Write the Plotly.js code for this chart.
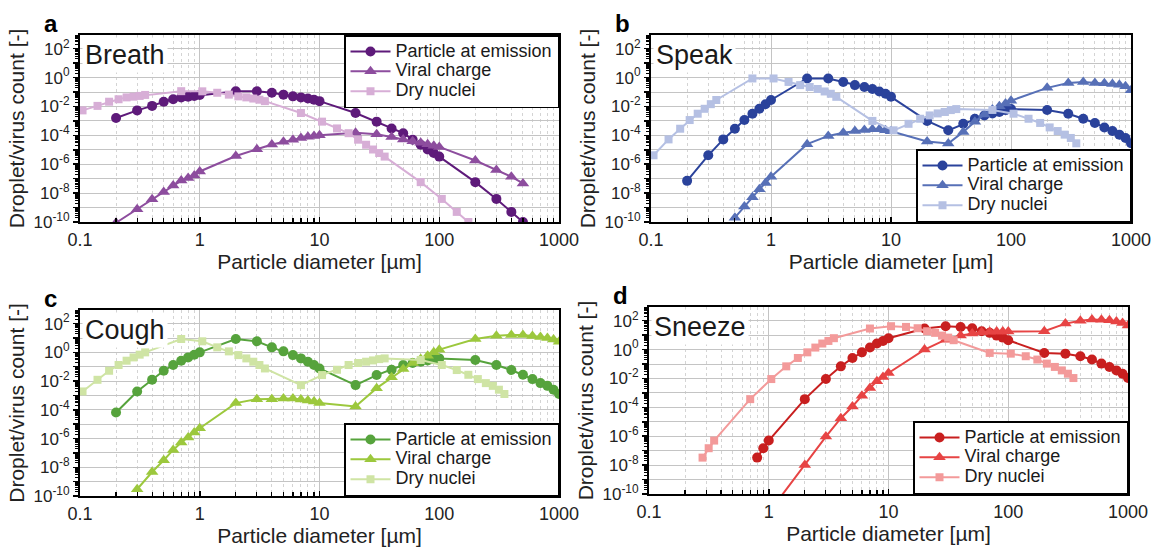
<!DOCTYPE html>
<html><head><meta charset="utf-8">
<script src="https://cdn.plot.ly/plotly-3.0.1.min.js"></script>
<style>html,body{margin:0;padding:0;background:#fff}</style>
</head><body><div id="chart" style="width:1159px;height:553px"></div>
<script>
// ---- Data (values stored as log10 of the count) ----
const seriesNames = ['Particle at emission', 'Viral charge', 'Dry nuclei'];
const panelNames = ['Breath', 'Speak', 'Cough', 'Sneeze'];
const panelLetters = ['a', 'b', 'c', 'd'];

// Breath
const breathX = [0.2,0.3,0.4,0.5,0.6,0.7,0.8,0.9,1,2,3,4,5,6,7,8,9,10,20,30,40,50,60,70,80,90,100,200,300,400,500];
const breathParticleLog = [-2.8,-2.27,-1.96,-1.67,-1.5,-1.37,-1.32,-1.27,-1.2,-0.94,-0.95,-1.05,-1.18,-1.3,-1.37,-1.45,-1.53,-1.63,-2.45,-3.05,-3.52,-3.85,-4.3,-4.65,-4.98,-5.22,-5.47,-7.24,-8.4,-9.3,-10.0];
const breathViralLog = [-10.05,-9.12,-8.42,-7.93,-7.48,-7.13,-6.95,-6.78,-6.5,-5.43,-4.96,-4.63,-4.45,-4.3,-4.18,-4.1,-4.04,-4.0,-3.82,-3.92,-4.12,-4.28,-4.4,-4.52,-4.62,-4.72,-4.8,-5.74,-6.4,-6.86,-7.33];
const breathDryX = [0.105,0.14,0.175,0.21,0.245,0.28,0.315,0.35,0.7,1.05,1.4,1.75,2.1,2.45,2.8,3.15,3.5,7,10.5,14,17.5,21,24.5,28,31.5,35,70,105,140,175];
const breathDryLog = [-2.27,-1.96,-1.67,-1.5,-1.37,-1.32,-1.27,-1.2,-0.94,-0.95,-1.05,-1.18,-1.3,-1.37,-1.45,-1.53,-1.63,-2.45,-3.05,-3.52,-3.85,-4.3,-4.65,-4.98,-5.22,-5.47,-7.24,-8.4,-9.3,-10.0];

// Speak
const speakX = [0.2,0.3,0.4,0.5,0.6,0.7,0.8,0.9,1,2,3,4,5,6,7,8,9,10,20,30,40,50,60,70,80,90,100,200,300,400,500,600,700,800,900,1000];
const speakParticleLog = [-7.15,-5.38,-4.28,-3.54,-2.94,-2.5,-2.16,-1.84,-1.55,-0.06,-0.06,-0.3,-0.52,-0.65,-0.79,-0.96,-1.12,-1.33,-3.0,-3.65,-3.2,-2.85,-2.62,-2.48,-2.38,-2.25,-2.18,-2.24,-2.5,-2.85,-3.14,-3.45,-3.7,-3.95,-4.18,-4.55];
const speakViralX = [0.5,0.6,0.7,0.8,0.9,1,2,3,4,5,6,7,8,9,10,20,30,40,50,60,70,80,90,100,200,300,400,500,600,700,800,900,1000];
const speakViralLog = [-9.7,-8.93,-8.28,-7.74,-7.3,-6.87,-4.61,-4.04,-3.82,-3.7,-3.63,-3.58,-3.58,-3.64,-3.71,-4.42,-4.56,-3.76,-3.05,-2.56,-2.21,-1.98,-1.79,-1.6,-0.71,-0.37,-0.3,-0.37,-0.4,-0.44,-0.5,-0.6,-0.88];
const speakDryX = [0.105,0.14,0.175,0.21,0.245,0.28,0.315,0.35,0.7,1.05,1.4,1.75,2.1,2.45,2.8,3.15,3.5,7,10.5,14,17.5,21,24.5,28,31.5,35,70,105,140,175,210,245,280,315,350];
const speakDryLog = [-5.38,-4.28,-3.54,-2.94,-2.5,-2.16,-1.84,-1.55,-0.06,-0.06,-0.3,-0.52,-0.65,-0.79,-0.96,-1.12,-1.33,-3.0,-3.65,-3.2,-2.85,-2.62,-2.48,-2.38,-2.25,-2.18,-2.24,-2.5,-2.85,-3.14,-3.45,-3.7,-3.95,-4.18,-4.55];

// Cough
const coughX = [0.2,0.3,0.4,0.5,0.6,0.7,0.8,0.9,1,2,3,4,5,6,7,8,9,10,20,30,40,50,60,70,80,90,100,200,300,400,500,600,700,800,900,1000];
const coughParticleLog = [-4.19,-2.72,-1.91,-1.28,-0.88,-0.58,-0.35,-0.16,0,0.93,0.77,0.35,0.07,-0.19,-0.42,-0.65,-0.88,-1.12,-2.28,-1.58,-1.21,-0.88,-0.74,-0.65,-0.56,-0.47,-0.42,-0.53,-0.88,-1.23,-1.56,-1.86,-2.14,-2.33,-2.6,-2.9];
const coughViralX = [0.3,0.4,0.5,0.6,0.7,0.8,0.9,1,2,3,4,5,6,7,8,9,10,20,30,40,50,60,70,80,90,100,200,300,400,500,600,700,800,900,1000];
const coughViralLog = [-9.53,-8.33,-7.51,-6.79,-6.28,-5.93,-5.58,-5.28,-3.53,-3.26,-3.26,-3.21,-3.21,-3.28,-3.35,-3.42,-3.53,-3.77,-2.49,-1.74,-1.16,-0.74,-0.47,-0.23,0,0.19,0.93,1.16,1.21,1.21,1.14,1.07,1.0,0.9,0.74];
const coughDryX = [0.105,0.14,0.175,0.21,0.245,0.28,0.315,0.35,0.7,1.05,1.4,1.75,2.1,2.45,2.8,3.15,3.5,7,10.5,14,17.5,21,24.5,28,31.5,35,70,105,140,175,210,245,280,315,350];
const coughDryLog = [-2.72,-1.91,-1.28,-0.88,-0.58,-0.35,-0.16,0,0.93,0.77,0.35,0.07,-0.19,-0.42,-0.65,-0.88,-1.12,-2.28,-1.58,-1.21,-0.88,-0.74,-0.65,-0.56,-0.47,-0.42,-0.53,-0.88,-1.23,-1.56,-1.86,-2.14,-2.33,-2.6,-2.9];

// Sneeze
const sneezeX = [0.8,0.9,1,2,3,4,5,6,7,8,9,10,20,30,40,50,60,70,80,90,100,200,300,400,500,600,700,800,900,1000];
const sneezeParticleLog = [-7.48,-6.83,-6.3,-3.43,-2.04,-1.16,-0.58,-0.19,0.14,0.42,0.6,0.79,1.46,1.62,1.57,1.48,1.27,1.16,0.97,0.83,0.65,-0.23,-0.28,-0.46,-0.69,-0.97,-1.2,-1.44,-1.67,-1.97];
const sneezeViralX = [1,2,3,4,5,6,7,8,9,10,20,30,40,50,60,70,80,90,100,200,300,400,500,600,700,800,900,1000];
const sneezeViralLog = [-11.3,-7.99,-6.02,-4.75,-3.94,-3.19,-2.66,-2.2,-1.9,-1.62,0.0,0.69,0.97,1.11,1.2,1.24,1.25,1.25,1.25,1.27,1.8,2.0,2.08,2.06,2.03,1.95,1.85,1.67];
const sneezeDryX = [0.28,0.315,0.35,0.7,1.05,1.4,1.75,2.1,2.45,2.8,3.15,3.5,7,10.5,14,17.5,21,24.5,28,31.5,35,70,105,140,175,210,245,280,315,350];
const sneezeDryLog = [-7.48,-6.83,-6.3,-3.43,-2.04,-1.16,-0.58,-0.19,0.14,0.42,0.6,0.79,1.46,1.62,1.57,1.48,1.27,1.16,0.97,0.83,0.65,-0.23,-0.28,-0.46,-0.69,-0.97,-1.2,-1.44,-1.67,-1.97];

const xTickVals = [0.1, 1, 10, 100, 1000];
const xTickText = ['0.1', '1', '10', '100', '1000'];
const yExponents = [-10,-9,-8,-7,-6,-5,-4,-3,-2,-1,0,1,2];

// ---- Styling ----
const palettes = [
  ['#5e1a7a', '#8d4d9e', '#d7aed6'],
  ['#2a429b', '#5770b7', '#b5c0e3'],
  ['#56a33c', '#9cc83d', '#cfe4a4'],
  ['#c81f1f', '#e74444', '#f39a9a']
];
const symbols = ['circle', 'triangle-up', 'square'];
const msizes = [10, 11, 8];

const panels = [
  [[breathX, breathParticleLog], [breathX, breathViralLog], [breathDryX, breathDryLog]],
  [[speakX, speakParticleLog], [speakViralX, speakViralLog], [speakDryX, speakDryLog]],
  [[coughX, coughParticleLog], [coughViralX, coughViralLog], [coughDryX, coughDryLog]],
  [[sneezeX, sneezeParticleLog], [sneezeViralX, sneezeViralLog], [sneezeDryX, sneezeDryLog]]
];

const W = 1159, H = 553;
// pixel boxes [left, right, top, bottom]
const boxes = [
  [80, 559, 35, 222],
  [651, 1131, 35, 222],
  [80, 559, 310, 496],
  [649, 1128, 307, 494]
];
const yRange = [-10, 2.95];

const traces = [];
panels.forEach((pan, p) => {
  pan.forEach((s, k) => {
    traces.push({
      type: 'scatter', mode: 'lines+markers',
      x: s[0], y: s[1].map(v => Math.pow(10, v)),
      name: '<span style="font-size:18px">' + seriesNames[k] + '</span>',
      xaxis: p === 0 ? 'x' : 'x' + (p + 1),
      yaxis: p === 0 ? 'y' : 'y' + (p + 1),
      legend: p === 0 ? 'legend' : 'legend' + (p + 1),
      line: {color: palettes[p][k], width: 2},
      marker: {color: palettes[p][k], symbol: symbols[k], size: msizes[k], line: {width: 0}},
      hoverinfo: 'x+y'
    });
  });
});

const minorX = [];
[0.1, 1, 10, 100].forEach(d => { for (let m = 2; m <= 9; m++) minorX.push(d * m); });
const minorY = [];
yExponents.forEach(e => { for (let m = 2; m <= 9; m++) minorY.push(m * Math.pow(10, e)); });

const font = 'Liberation Sans, Arial, sans-serif';
const layout = {
  width: W, height: H,
  margin: {l: 0, r: 0, t: 0, b: 0},
  paper_bgcolor: '#fff', plot_bgcolor: '#fff',
  font: {family: font, color: '#1a1a1a'},
  showlegend: true,
  annotations: []
};

boxes.forEach((b, p) => {
  const sx = p === 0 ? '' : String(p + 1);
  layout['xaxis' + sx] = {
    type: 'log', range: [-1, 3],
    domain: [b[0] / W, b[1] / W],
    anchor: 'y' + sx,
    tickmode: 'array', tickvals: xTickVals, ticktext: xTickText,
    tickfont: {size: 18, color: '#222'},
    ticks: 'inside', ticklen: 5, tickwidth: 1.5, tickcolor: '#000',
    showline: true, linecolor: '#000', linewidth: 2, mirror: true,
    showgrid: true, gridcolor: '#c4c4c4', gridwidth: 1,
    minor: {tickvals: minorX, ticks: 'inside', ticklen: 4, tickwidth: 1.2, tickcolor: '#000',
            showgrid: true, gridcolor: '#d4d4d4', griddash: '3px,3px', gridwidth: 1},
    zeroline: false,
    title: {text: 'Particle diameter [µm]', font: {size: 21, color: '#222'}, standoff: 2}
  };
  layout['yaxis' + sx] = {
    type: 'log', range: yRange,
    domain: [(H - b[3]) / H, (H - b[2]) / H],
    anchor: 'x' + sx,
    tickmode: 'array',
    tickvals: yExponents.map(e => Math.pow(10, e)),
    ticktext: yExponents.map(e => (e % 2 === 0 ? '10<sup>' + e + '</sup>' : '')),
    tickfont: {size: 17, color: '#222'},
    ticks: 'outside', ticklen: 5, tickwidth: 1.5, tickcolor: '#000',
    showline: true, linecolor: '#000', linewidth: 2, mirror: true,
    showgrid: true, gridcolor: '#c4c4c4', gridwidth: 1,
    minor: {tickvals: minorY, ticks: 'outside', ticklen: 3, tickwidth: 1, tickcolor: '#000', showgrid: false},
    zeroline: false,
    title: {text: 'Droplet/virus count [-]', font: {size: 21, color: '#222'}, standoff: 3}
  };
  const lg = p === 0 ? 'legend' : 'legend' + (p + 1);
  const top = p === 0;
  layout[lg] = {
    x: b[1] / W, xanchor: 'right',
    y: top ? (H - b[2]) / H : (H - b[3]) / H, yanchor: top ? 'top' : 'bottom',
    bgcolor: '#fff', bordercolor: '#000', borderwidth: 1.5,
    font: {size: 13, family: font, color: '#1a1a1a'},
    tracegroupgap: 0, itemwidth: 40
  };
  layout.annotations.push({
    text: panelNames[p], xref: 'paper', yref: 'paper',
    x: (b[0] + 2) / W, y: (H - b[2] - 2) / H, xanchor: 'left', yanchor: 'top',
    showarrow: false, bgcolor: '#fff', borderpad: 2,
    font: {size: 27, family: font, color: '#1a1a1a'}
  });
  layout.annotations.push({
    text: '<b>' + panelLetters[p] + '</b>', xref: 'paper', yref: 'paper',
    x: (b[0] - 38) / W, y: (H - b[2] + 27) / H, xanchor: 'left', yanchor: 'top',
    showarrow: false, font: {size: 24, family: font, color: '#000'}
  });
});

Plotly.newPlot('chart', traces, layout, {displayModeBar: false, staticPlot: true});
</script>
</body></html>
